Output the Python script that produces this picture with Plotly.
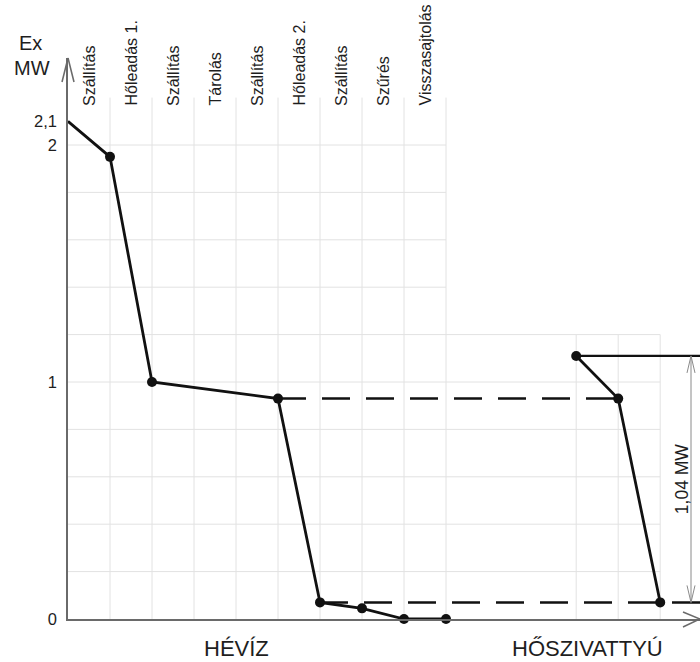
import plotly.graph_objects as go

# Process steps (category columns along the x axis)
steps = ["Szállítás", "Hőleadás 1.", "Szállítás", "Tárolás", "Szállítás",
         "Hőleadás 2.", "Szállítás", "Szűrés", "Visszasajtolás"]

# Exergy along the thermal-water chain (MW)
heviz_x = [0, 1, 2, 5, 6, 7, 8, 9]
heviz_y = [2.1, 1.95, 1.0, 0.93, 0.07, 0.045, 0.0, 0.0]

# Heat-pump side (MW)
hp_x = [12.1, 13.1, 14.1]
hp_y = [1.11, 0.93, 0.07]

dim_label = "1,04 MW"
y_tickvals = [0, 1, 2, 2.1]
y_ticktext = ["0", "1", "2", "2,1"]

FONT = "Liberation Sans, Arial, sans-serif"
TXT = "#1e1e1e"
GRID = "#e2e2e2"
AXIS = "#6a6a6a"

W, H = 700, 662
ML, MT, MB = 68, 58, 43
PW, PH = W - ML, H - MT - MB
PX_X = 42.0     # pixels per step
PX_Y = 237.0    # pixels per MW
x_max = PW / PX_X
y_max = PH / PX_Y


def px(xp):
    return (xp - ML) / PW


def py(yp):
    return (H - MB - yp) / PH


fig = go.Figure()
shapes = []


def seg(x0, y0, x1, y1, color, width, dash=None, ref="data"):
    r = "x" if ref == "data" else "paper"
    d = dict(type="line", xref=r, yref=r.replace("x", "y"), x0=x0, y0=y0, x1=x1, y1=y1,
             line=dict(color=color, width=width),
             layer="below" if color == GRID else "above")
    if dash:
        d["line"]["dash"] = dash
    shapes.append(d)


# grid: main block (0..9, 0..2.2) and heat-pump block (12.1..14.1, 0..1.2)
for i in range(1, len(steps) + 1):
    seg(i, 0, i, 2.2, GRID, 1)
for xv in hp_x:
    seg(xv, 0, xv, 1.2, GRID, 1)
for k in range(1, 11):
    yv = k * 0.2
    if yv <= 1.2 + 1e-9:
        seg(0, yv, hp_x[-1], yv, GRID, 1)
    else:
        seg(0, yv, len(steps), yv, GRID, 1)

# dashed level connectors
seg(heviz_x[3], heviz_y[3], hp_x[1], hp_y[1], "#111", 2.5, "28px,16px")
seg(heviz_x[4], heviz_y[4], x_max, heviz_y[4], "#111", 2.5, "28px,16px")

# heat-pump top level line
seg(hp_x[0], hp_y[0], x_max, hp_y[0], "#111", 2.2)

# dimension line with open arrowheads
dim_x = (691 - ML) / PX_X
seg(dim_x, hp_y[2], dim_x, hp_y[0], "#8a8a8a", 1)
ax_dx, ax_dy = 4 / PX_X, 17 / PX_Y
for tip, sgn in ((hp_y[0], -1), (hp_y[2], 1)):
    seg(dim_x - ax_dx, tip + sgn * ax_dy, dim_x, tip, "#8a8a8a", 1)
    seg(dim_x + ax_dx, tip + sgn * ax_dy, dim_x, tip, "#8a8a8a", 1)

# axis arrowheads (paper coordinates so they are not clipped)
seg(px(62), py(82), px(68), py(58), AXIS, 1.5, ref="paper")
seg(px(74), py(82), px(68), py(58), AXIS, 1.5, ref="paper")
seg(px(683), py(612), px(700), py(619), AXIS, 1.5, ref="paper")
seg(px(683), py(627), px(700), py(619), AXIS, 1.5, ref="paper")

# curves
fig.add_trace(go.Scatter(x=heviz_x, y=heviz_y, mode="lines", line=dict(color="#111", width=2.8),
                         cliponaxis=False, showlegend=False, hoverinfo="skip"))
fig.add_trace(go.Scatter(x=heviz_x[1:], y=heviz_y[1:], mode="markers",
                         marker=dict(color="#111", size=10), cliponaxis=False, showlegend=False))
fig.add_trace(go.Scatter(x=hp_x, y=hp_y, mode="lines+markers", line=dict(color="#111", width=2.8),
                         marker=dict(color="#111", size=10), cliponaxis=False, showlegend=False))

ann = []
for i, s in enumerate(steps):
    ann.append(dict(x=i + 0.5, y=py(108), xref="x", yref="paper", text=s, textangle=-90,
                    xanchor="center", yanchor="bottom", showarrow=False,
                    font=dict(family=FONT, size=16, color=TXT)))
ann.append(dict(x=px(30), y=py(43), xref="paper", yref="paper", text="Ex", showarrow=False,
                xanchor="center", yanchor="middle", font=dict(family=FONT, size=20, color=TXT)))
ann.append(dict(x=px(32), y=py(68), xref="paper", yref="paper", text="MW", showarrow=False,
                xanchor="center", yanchor="middle", font=dict(family=FONT, size=20, color=TXT)))
ann.append(dict(x=4.0, y=py(648), xref="x", yref="paper", text="HÉVÍZ", showarrow=False,
                xanchor="center", yanchor="middle", font=dict(family=FONT, size=22, color=TXT)))
ann.append(dict(x=12.38, y=py(648), xref="x", yref="paper", text="HŐSZIVATTYÚ", showarrow=False,
                xanchor="center", yanchor="middle", font=dict(family=FONT, size=22, color=TXT)))
ann.append(dict(x=(682 - ML) / PX_X, y=(hp_y[0] + hp_y[2]) / 2, xref="x", yref="y", text=dim_label,
                textangle=-90, showarrow=False, xanchor="center", yanchor="middle",
                font=dict(family=FONT, size=17.5, color=TXT)))

fig.update_layout(
    width=W, height=H, margin=dict(l=ML, r=0, t=MT, b=MB),
    paper_bgcolor="white", plot_bgcolor="white",
    shapes=shapes, annotations=ann,
    xaxis=dict(range=[0, x_max], showgrid=False, zeroline=False, showline=True, linecolor=AXIS,
               linewidth=1.5, showticklabels=False, ticks=""),
    yaxis=dict(range=[0, y_max], showgrid=False, zeroline=False, showline=True, linecolor=AXIS,
               linewidth=1.5, tickvals=y_tickvals, ticktext=y_ticktext, ticks="",
               ticklabelstandoff=6, tickfont=dict(family=FONT, size=16.5, color=TXT)),
)

fig.write_html("out.html")
